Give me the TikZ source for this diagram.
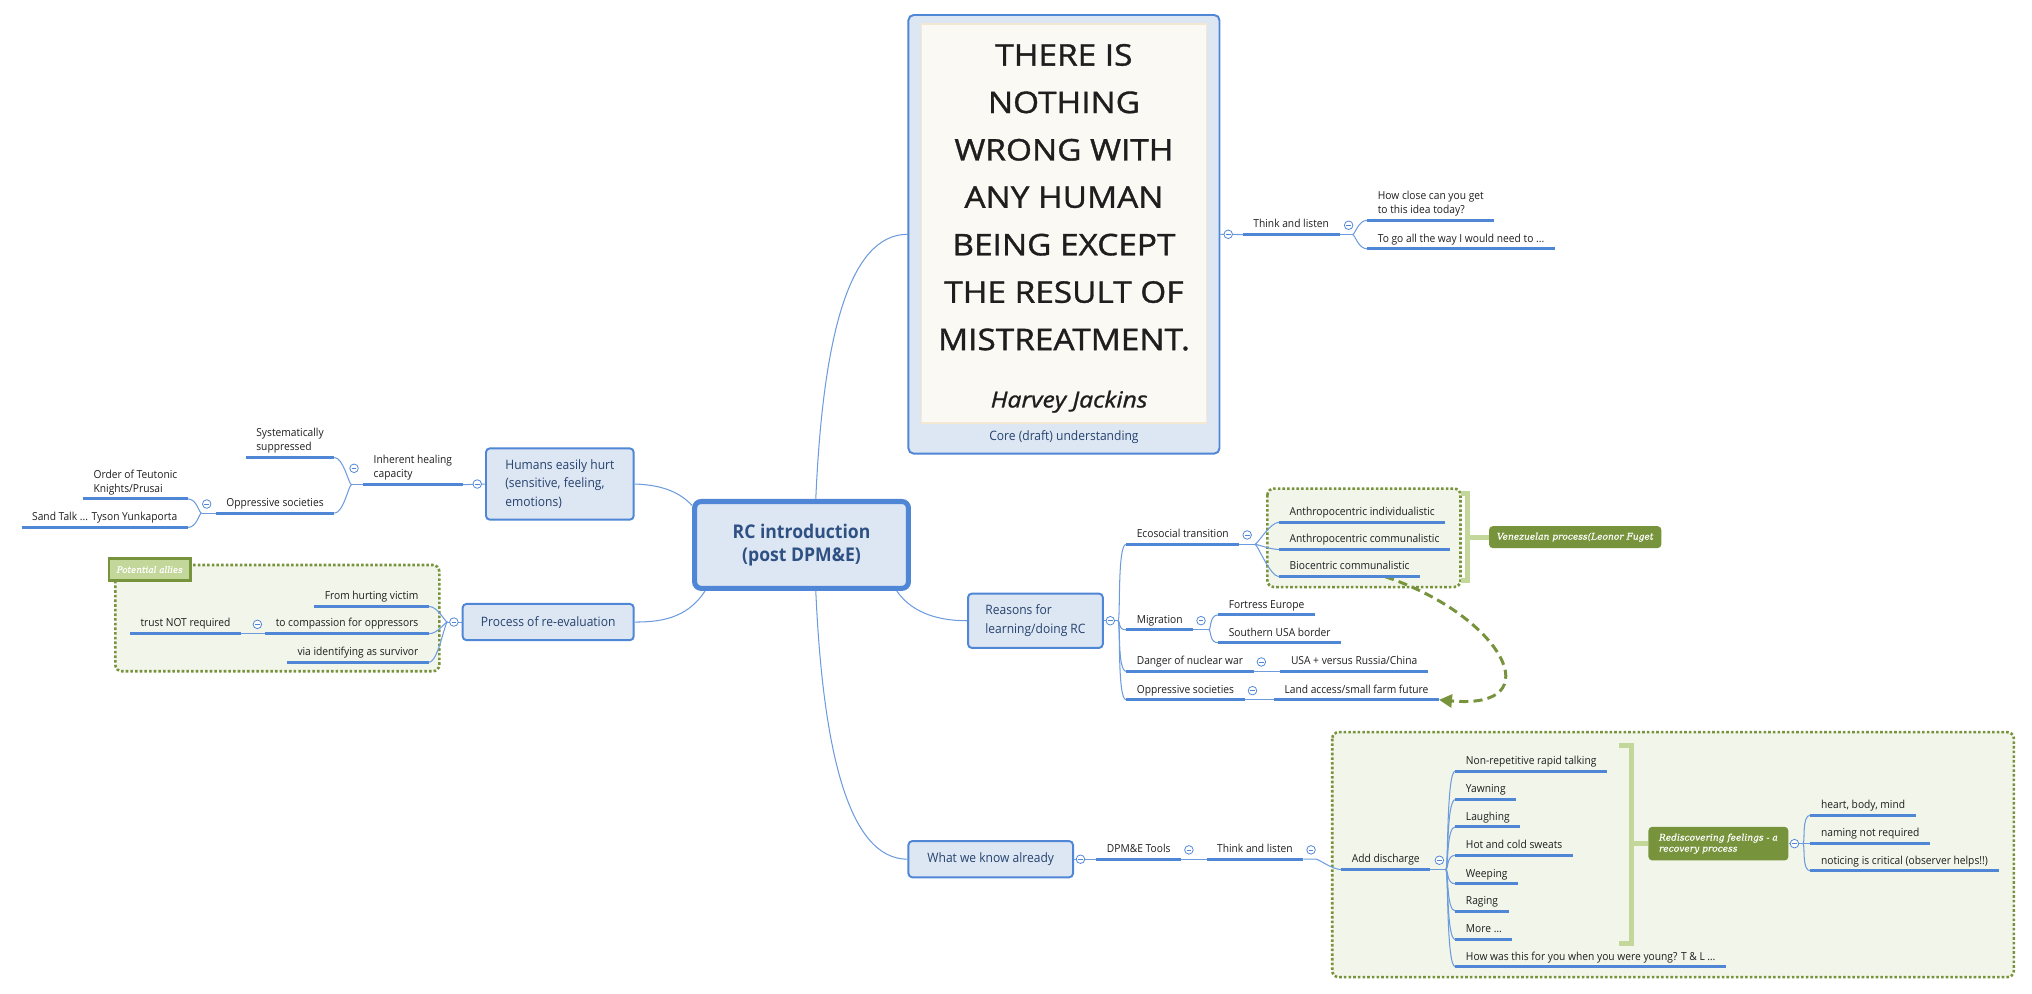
\documentclass[tikz,border=0pt]{standalone}
\usepackage{fontspec}
\setmainfont{Open Sans}[FakeStretch=0.93]
\newfontfamily\quotefont{Open Sans}[FakeStretch=1.12, FakeBold=1.2]
\newfontfamily\notefont{DejaVu Serif}[FakeBold=0.6]
\usetikzlibrary{arrows.meta}

\definecolor{xblue}{RGB}{79,134,214}
\definecolor{xline}{RGB}{108,155,222}
\definecolor{xfill}{RGB}{221,231,243}
\definecolor{xtext}{RGB}{38,66,110}
\definecolor{olive}{RGB}{119,147,60}
\definecolor{palegreen}{RGB}{242,245,234}
\definecolor{brgreen}{RGB}{196,215,155}
\definecolor{paper}{RGB}{251,249,243}
\definecolor{paperedge}{RGB}{243,233,210}
\definecolor{ink}{RGB}{30,30,30}

\tikzset{
  topic/.style={font=\fontsize{8.5}{10.9}\selectfont, text=ink, inner xsep=8pt, inner ysep=2.5pt, text depth=2.5pt, align=left},
  uline/.style={xblue, line width=2.3pt},
  conn/.style={xline, line width=0.8pt},
  box/.style={draw=xblue, fill=xfill, rounded corners=3pt, line width=1.5pt, text=xtext, inner sep=0pt, font=\fontsize{10}{14.3}\selectfont, align=left},
  fold/.style={circle, draw=xblue, fill=white, line width=0.6pt, minimum size=6.6pt, inner sep=0pt,
    path picture={\draw[xblue, line width=0.6pt] ([xshift=-1.8pt]path picture bounding box.center) -- ([xshift=1.8pt]path picture bounding box.center);}},
  zone/.style={draw=olive, fill=palegreen, line width=2pt, dash pattern=on 2pt off 1.6pt, rounded corners=5pt},
  note/.style={fill=olive, text=white, rounded corners=3pt, inner sep=0pt, font=\notefont\itshape\fontsize{7}{8.5}\selectfont, align=left},
  brace/.style={brgreen, line width=4pt},
  quoteline/.style={font=\quotefont\fontsize{23}{26}\selectfont, text=ink, inner sep=0pt},
  forkr/.style={to path={.. controls +(2,0) and +(-7,0) .. (\tikztotarget)}},
  forkl/.style={to path={.. controls +(-2,0) and +(7,0) .. (\tikztotarget)}}
}

\begin{document}
\begin{tikzpicture}[x=1pt,y=-1pt]
    \useasboundingbox (0,0) rectangle (1568,767);

    % dotted boundaries
    \draw[zone] (89,436) rectangle (339,518);
    \draw[zone] (978,377) rectangle (1127,453);
    \draw[zone] (1028,565) rectangle (1554,754);

    % main topics
    \node[box, line width=3.9pt, rounded corners=5pt, minimum width=165pt, minimum height=67pt, align=center, text=xtext!80!xblue,
          font=\fontsize{14.6}{17.7}\selectfont\bfseries] (rc) at (618.5,420.5) {RC introduction\\(post DPM\&E)};
    \node[box, minimum width=240pt, minimum height=338.4pt, rounded corners=4pt] (core) at (821,180.8) {};
    \node[draw=paperedge, fill=paper, line width=1pt, minimum width=220pt, minimum height=308pt, inner sep=0pt] (paper) at (821,172.5) {};
    \foreach \t [count=\i] in {THERE IS, NOTHING, WRONG WITH, ANY HUMAN, BEING EXCEPT, THE RESULT OF, MISTREATMENT.}
        \node[quoteline] (q\i) at (821,{5.8+36.6*\i}) {\t};
    \node[font=\quotefont\itshape\fontsize{17}{20}\selectfont, text=ink] (author) at (825,310) {Harvey Jackins};
    \node[text=xtext, font=\fontsize{10}{12}\selectfont] (corecap) at (821,337) {Core (draft) understanding};

    \node[box, minimum width=114pt, minimum height=55pt] (humans) at (432,373.5) {Humans easily hurt\\(sensitive, feeling,\\emotions)};
    \node[box, minimum width=132pt, minimum height=28pt] (process) at (423,480) {Process of re-evaluation};
    \node[box, minimum width=104pt, minimum height=42pt] (reasons) at (799,479) {Reasons for\\learning/doing RC};
    \node[box, minimum width=127pt, minimum height=28pt] (wwk) at (764.5,663) {What we know already};

    % core understanding
    \node[topic, anchor=south west] (tl1) at (959,181) {Think and listen};
    \node[topic, anchor=south west] (hc) at (1055,170) {How close can you get\\to this idea today?};
    \node[topic, anchor=south west] (tg) at (1055,192) {To go all the way I would need to ...};

    % humans easily hurt
    \node[topic, anchor=south east] (heal) at (357,374) {Inherent healing\\capacity};
    \node[topic, anchor=south east] (sys) at (258,353) {Systematically\\suppressed};
    \node[topic, anchor=south east] (ops) at (258,396) {Oppressive societies};
    \node[topic, anchor=south east] (ord) at (145,385) {Order of Teutonic\\Knights/Prusai};
    \node[topic, anchor=south east] (sand) at (145,407) {Sand Talk ... Tyson Yunkaporta};

    % re-evaluation
    \node[topic, anchor=south east] (fh) at (331,468) {From hurting victim};
    \node[topic, anchor=south east] (tc) at (331,489) {to compassion for oppressors};
    \node[topic, anchor=south east] (vi) at (331,511) {via identifying as survivor};
    \node[topic, anchor=south east] (tr) at (186,489) {trust NOT required};
    \node[fill=brgreen, draw=olive, line width=2pt, text=white, inner sep=0pt, minimum width=63pt, minimum height=17pt,
          font=\notefont\itshape\fontsize{6.8}{8}\selectfont] (allies) at (115.5,439.5) {Potential allies};

    % reasons
    \node[topic, anchor=south west] (eco) at (869,420) {Ecosocial transition};
    \node[topic, anchor=south west] (ai) at (987,403) {Anthropocentric individualistic};
    \node[topic, anchor=south west] (ac) at (987,424) {Anthropocentric communalistic};
    \node[topic, anchor=south west] (bc) at (987,445) {Biocentric communalistic};
    \node[topic, anchor=south west] (mig) at (869,486) {Migration};
    \node[topic, anchor=south west] (fe) at (940,474.5) {Fortress Europe};
    \node[topic, anchor=south west] (su) at (940,496) {Southern USA border};
    \node[topic, anchor=south west] (nuc) at (869,518) {Danger of nuclear war};
    \node[topic, anchor=south west] (usa) at (988,518) {USA + versus Russia/China};
    \node[topic, anchor=south west] (opr) at (869,540) {Oppressive societies};
    \node[topic, anchor=south west] (land) at (983,540) {Land access/small farm future};
    \node[note, minimum width=133pt, minimum height=17pt] (ven) at (1215.5,414.5) {Venezuelan process(Leonor Fuget};

    % what we know already
    \node[topic, anchor=south west] (dpm) at (846,663) {DPM\&E Tools};
    \node[topic, anchor=south west] (tl2) at (931,663) {Think and listen};
    \node[topic, anchor=south west] (add) at (1035,671) {Add discharge};
    \foreach \t/\y [count=\i] in {Non-repetitive rapid talking/595, Yawning/617, Laughing/638, Hot and cold sweats/660,
                                  Weeping/682, Raging/703, More \ldots/725, How was this for you when you were young? T \& L \ldots/746}
        \node[topic, anchor=south west] (d\i) at (1123,\y) {\t};
    \node[note, minimum width=108pt, minimum height=26pt] (rec) at (1326,651) {Rediscovering feelings - a\\recovery process};
    \node[topic, anchor=south west] (r1) at (1397,629) {heart, body, mind};
    \node[topic, anchor=south west] (r2) at (1397,651) {naming not required};
    \node[topic, anchor=south west] (r3) at (1397,672) {noticing is critical (observer helps!!)};

    % branches from the centre
    \draw[conn] ([xshift=11pt]rc.north) .. controls (635,260) and (655,181) .. (core.west);
    \draw[conn] ([xshift=11pt]rc.south) .. controls (635,580) and (655,663) .. (wwk.west);
    \draw[conn] ([yshift=-5pt]rc.north west) .. controls (522,377) and (505,374) .. (humans.east);
    \draw[conn] ([xshift=10pt]rc.south west) .. controls (530,478) and (508,480) .. (process.east);
    \draw[conn] ([xshift=-11pt]rc.south east) .. controls (705,475) and (728,479) .. (reasons.west);

    \draw[conn] (core.east) -- (tl1.south west);
    \coordinate (tl1F) at ([xshift=10pt]tl1.south east);
    \draw[conn] (tl1.south east) -- (tl1F);
    \foreach \n in {hc,tg} \draw[conn] (tl1F) to[forkr] (\n.south west);

    \draw[conn] (humans.west) -- (heal.south east);
    \coordinate (healF) at ([xshift=-9pt]heal.south west);
    \draw[conn] (heal.south west) -- (healF);
    \foreach \n in {sys,ops} \draw[conn] (healF) to[forkl] (\n.south east);
    \coordinate (opsF) at ([xshift=-11pt]ops.south west);
    \draw[conn] (ops.south west) -- (opsF);
    \foreach \n in {ord,sand} \draw[conn] (opsF) to[forkl] (\n.south east);

    \coordinate (procF) at ([xshift=-11pt]process.west);
    \draw[conn] (process.west) -- (procF);
    \foreach \n in {fh,tc,vi} \draw[conn] (procF) to[forkl] (\n.south east);
    \draw[conn] (tc.south west) -- (tr.south east);

    \coordinate (rsnF) at ([xshift=11pt]reasons.east);
    \draw[conn] (reasons.east) -- (rsnF);
    \foreach \n in {eco,mig,nuc,opr} \draw[conn] (rsnF) to[forkr] (\n.south west);
    \coordinate (ecoF) at ([xshift=12pt]eco.south east);
    \draw[conn] (eco.south east) -- (ecoF);
    \foreach \n in {ai,ac,bc} \draw[conn] (ecoF) to[forkr] (\n.south west);
    \coordinate (migF) at ([xshift=12pt]mig.south east);
    \draw[conn] (mig.south east) -- (migF);
    \foreach \n in {fe,su} \draw[conn] (migF) to[forkr] (\n.south west);
    \draw[conn] (nuc.south east) -- (usa.south west);
    \draw[conn] (opr.south east) -- (land.south west);

    \draw[conn] (wwk.east) -- (dpm.south west);
    \draw[conn] (dpm.south east) -- (tl2.south west);
    \coordinate (tl2F) at ([xshift=10pt]tl2.south east);
    \draw[conn] (tl2.south east) -- (tl2F) to[forkr] (add.south west);
    \coordinate (addF) at ([xshift=12pt]add.south east);
    \draw[conn] (add.south east) -- (addF);
    \foreach \i in {1,...,8} \draw[conn] (addF) to[forkr] (d\i.south west);
    \coordinate (recF) at ([xshift=11pt]rec.east);
    \draw[conn] (rec.east) -- (recF);
    \foreach \n in {r1,r2,r3} \draw[conn] (recF) to[forkr] (\n.south west);

    % summary brackets
    \draw[brace] (1127,381) -- (1132.5,381) -- (1132.5,448) -- (1127,448);
    \draw[brace] (1132.5,414.5) -- (ven.west);
    \draw[brace] (1249,575) -- (1259,575) -- (1259,728) -- (1249,728);
    \draw[brace] (1259,651) -- (rec.west);

    % relationship
    \draw[olive, line width=2.3pt, dash pattern=on 7pt off 4pt, -{Triangle[length=10pt,width=10pt]}]
        ([xshift=-27pt]bc.south east) .. controls +(90,30) and +(88,8) .. (land.south east);

    % underlines
    \foreach \n in {tl1,hc,tg,heal,sys,ops,ord,sand,fh,tc,vi,tr,eco,ai,ac,bc,mig,fe,su,nuc,usa,opr,land,dpm,tl2,add,r1,r2,r3}
        \draw[uline] (\n.south west) -- (\n.south east);
    \foreach \i in {1,...,8}
        \draw[uline] (d\i.south west) -- (d\i.south east);

    % fold buttons
    \foreach \n/\s in {core/6, tl1/7, reasons/5, eco/6, mig/6, nuc/6, opr/6, wwk/5, dpm/6, tl2/6, add/7, rec/4.5}
        \node[fold] (fold-\n) at ([xshift=\s pt]\n.east) {};
    \foreach \n/\s in {humans/6, heal/7, ops/7, process/6, tc/6}
        \node[fold] (fold-\n) at ([xshift=-\s pt]\n.west) {};
\end{tikzpicture}
\end{document}
